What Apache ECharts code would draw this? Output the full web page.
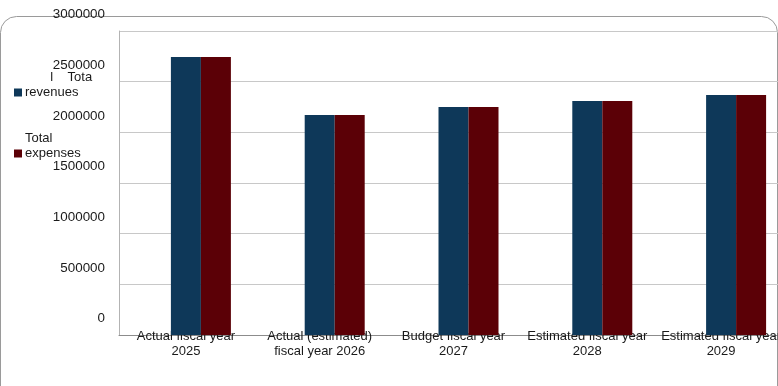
<!DOCTYPE html>
<html>
<head>
<meta charset="utf-8">
<script src="https://cdn.jsdelivr.net/npm/echarts@6/dist/echarts.min.js"></script>
<style>html,body{margin:0;padding:0;background:#fff;}#c{width:778px;height:386px;}</style>
</head>
<body>
<div id="c"></div>
<script>
var categories = ['Actual fiscal year\n2025', 'Actual (estimated)\nfiscal year 2026', 'Budget fiscal year\n2027', 'Estimated fiscal year\n2028', 'Estimated fiscal year\n2029'];
var revenues = [2743000, 2171000, 2250000, 2309000, 2368000];
var expenses = [2743000, 2171000, 2250000, 2309000, 2368000];
var yTicks = [0, 500000, 1000000, 1500000, 2000000, 2500000, 3000000];
var seriesNames = ['Total revenues', 'Total expenses'];
var legendLabels = ['       l    Tota\nrevenues\n ', 'Total\nexpenses\n '];

var chart = echarts.init(document.getElementById('c'), null, {renderer: 'canvas'});
var font = 'Liberation Sans, Arial, sans-serif';
chart.setOption({
  animation: false,
  backgroundColor: '#fff',
  textStyle: {fontFamily: font},
  graphic: [{
    type: 'rect', z: -10, silent: true,
    shape: {x: 0.5, y: 16.5, width: 777, height: 400, r: 16},
    style: {fill: '#fff', stroke: '#9a9a9a', lineWidth: 1}
  }],
  legend: {
    orient: 'vertical', left: 14, top: 70, padding: 0,
    data: seriesNames,
    itemWidth: 8, itemHeight: 8, itemGap: 16,
    icon: 'rect',
    formatter: function (n) { return legendLabels[seriesNames.indexOf(n)]; },
    textStyle: {fontFamily: font, fontSize: 13, color: '#1a1a1a', lineHeight: 15, padding: [0, 0, 0, -2]}
  },
  grid: {left: 119, top: 31, width: 669, height: 304, containLabel: false, outerBoundsMode: 'none'},
  xAxis: {
    type: 'category', data: categories,
    axisLine: {lineStyle: {color: '#8c8c8c', width: 1}},
    axisTick: {show: false},
    axisLabel: {interval: 0, margin: -6, fontSize: 13, color: '#1a1a1a', lineHeight: 15, fontFamily: font},
    splitLine: {show: false}
  },
  yAxis: {
    type: 'value', min: 0, max: 3000000, interval: 500000,
    axisLine: {show: true, lineStyle: {color: '#b3b3b3'}},
    axisTick: {show: false},
    axisLabel: {margin: 14, fontSize: 13.4, color: '#1a1a1a', fontFamily: font, verticalAlign: 'bottom', lineHeight: 33,
      formatter: function (v) { return yTicks.indexOf(v) >= 0 ? String(v) : ''; }},
    splitLine: {lineStyle: {color: '#c8c8c8', width: 1}}
  },
  series: [
    {name: 'spacer', type: 'bar', data: categories.map(function(){return '-';}), barWidth: 30, barGap: '0%', silent: true, itemStyle: {color: 'transparent'}},
    {name: seriesNames[0], type: 'bar', data: revenues, barWidth: 30, barGap: '0%', itemStyle: {color: '#0e3859'}},
    {name: seriesNames[1], type: 'bar', data: expenses, barWidth: 30, barGap: '0%', itemStyle: {color: '#5b0006'}}
  ]
});
</script>
</body>
</html>
